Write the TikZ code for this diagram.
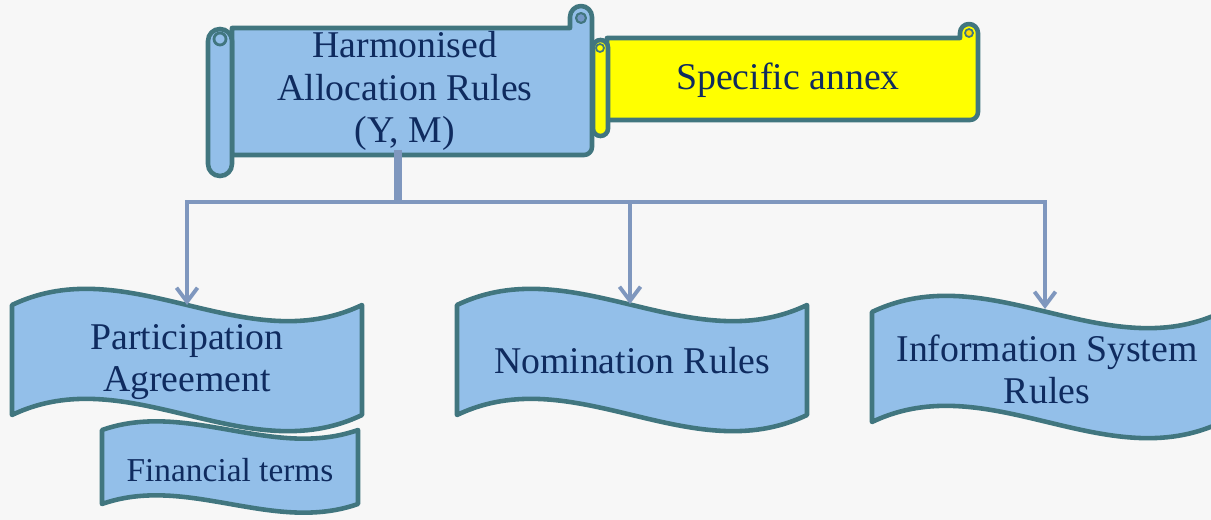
\documentclass[tikz,border=0pt]{standalone}
\usepackage{fontspec}
\setmainfont{Liberation Serif}
\usetikzlibrary{arrows.meta}
\definecolor{bg}{HTML}{F7F7F7}
\definecolor{blu}{HTML}{93BFE9}
\definecolor{rim}{HTML}{41767F}
\definecolor{curl}{HTML}{7398C6}
\definecolor{yel}{HTML}{FFFF00}
\definecolor{ink}{HTML}{0F2B5F}
\definecolor{wire}{HTML}{7F97BE}
\begin{document}
\begin{tikzpicture}[x=0.02cm,y=-0.02cm]
\tikzstyle{paper} = [draw=rim,line width=2.6pt,fill=blu,line join=round]
\tikzstyle{scrolltext} = [text centered,align=center,text=ink,font=\fontsize{21.5}{24}\selectfont]
\tikzstyle{link} = [draw=wire,line width=2.2pt]
\useasboundingbox (0,0) rectangle (1211,520);
\fill[bg] (0,0) rectangle (1211,520);
\clip (0,0) rectangle (1211,520);
	% yellow scroll
	\draw[paper,fill=yel] (607,120) -- (607,38) -- (960,38) -- (960,33)
	  arc[start angle=180,end angle=360,radius=9] -- (978,112)
	  arc[start angle=0,end angle=90,radius=8] -- cycle;
	\draw[draw=rim,line width=1pt,fill=yel!70!orange] (969,33) circle[radius=4];
	\draw[paper,fill=yel,rounded corners=4.2pt] (593,40) rectangle (608,136);
	\draw[draw=rim,line width=1pt,fill=yel] (600,48) circle[radius=4];
	% main scroll
	\draw[paper] (232,155) -- (232,28) -- (570,28) -- (570,17)
	  arc[start angle=180,end angle=360,radius=11] -- (592,147)
	  arc[start angle=0,end angle=90,radius=8] -- cycle;
	\draw[paper,fill=curl,line width=1.2pt] (581,18) circle[radius=5];
	\draw[paper,rounded corners=6.8pt] (208,29) rectangle (232,176);
	\draw[paper,line width=1.6pt] (220,39) circle[radius=6];
	% waves
	\foreach \x/\y/\w/\h/\a in {12/305/350/110/28, 457/305/350/110/28, 872/312/350/110/28, 102/430/256/74/15}
	  \draw[paper] (\x,\y) .. controls (\x+\w/3,\y-2*\a) and (\x+2*\w/3,\y+2*\a) .. (\x+\w,\y)
	    -- (\x+\w,\y+\h) .. controls (\x+2*\w/3,\y+\h+2*\a) and (\x+\w/3,\y+\h-2*\a) .. (\x,\y+\h) -- cycle;
	\node[scrolltext] (harm) at (405,91) {Harmonised\\Allocation Rules\\(Y, M)};
	\node[scrolltext] (annex) at (788,80) {Specific annex};
	\node[scrolltext] (part) at (187,362) {Participation\\Agreement};
	\node[scrolltext] (nomin) at (632,361) {Nomination Rules};
	\node[scrolltext] (info) at (1047,369) {Information System\\Rules};
	\node[scrolltext,font=\fontsize{19}{22}\selectfont] (fin) at (230,470) {Financial terms};
	% connectors
	\coordinate (harmfoot) at (398,150);
	\coordinate (fork) at (398,202);
	\coordinate (parttop) at (187,305);
	\coordinate (nomintop) at (630,304);
	\coordinate (infotop) at (1045,309);
	\draw[link,line width=4pt] (harmfoot) -- (fork);
	\foreach \t in {parttop,nomintop,infotop}
	  \draw[link,-{Straight Barb[length=8pt,width=12pt]}] (fork) -| (\t);
\end{tikzpicture}
\end{document}
